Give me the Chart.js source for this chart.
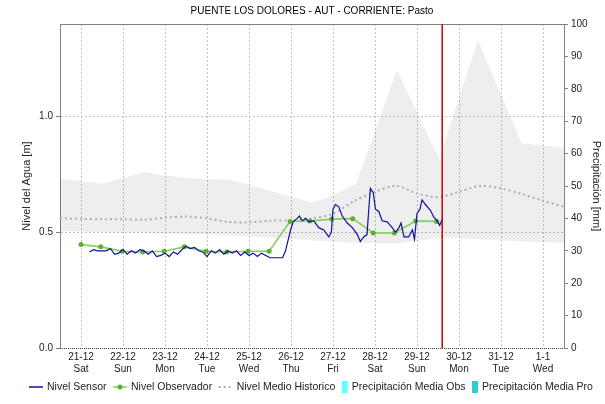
<!DOCTYPE html>
<html>
<head>
<meta charset="utf-8">
<title>Puente Los Dolores</title>
<script src="https://cdn.jsdelivr.net/npm/chart.js@4.4.1/dist/chart.umd.min.js"></script>
<style>
  html, body { margin: 0; padding: 0; background: #fff; }
  #wrap { width: 605px; height: 404px; }
</style>
</head>
<body>
<div id="wrap"><canvas id="levelChart" width="605" height="404"></canvas></div>
<script>
// x axis: days counted from 21-12 00:00
const dayTicks = [0, 1, 2, 3, 4, 5, 6, 7, 8, 9, 10, 11];
const dayLabels = ['21-12', '22-12', '23-12', '24-12', '25-12', '26-12', '27-12', '28-12', '29-12', '30-12', '31-12', '1-1'];
const weekDays = ['Sat', 'Sun', 'Mon', 'Tue', 'Wed', 'Thu', 'Fri', 'Sat', 'Sun', 'Mon', 'Tue', 'Wed'];
const levelTicks = [0, 0.5, 1.0];
const levelLabels = ['0.0', '0.5', '1.0'];
const precipTicks = [0, 10, 20, 30, 40, 50, 60, 70, 80, 90, 100];
const nowDay = 8.6;
const chartTitle = 'PUENTE LOS DOLORES - AUT - CORRIENTE: Pasto';

// Nivel Sensor [m]
const sensorDays = [
  0.2, 0.3, 0.4, 0.5, 0.6, 0.7, 0.8, 0.9, 1.0, 1.1, 1.2, 1.3, 1.4, 1.5, 1.6, 1.7,
  1.8, 1.9, 2.0, 2.1, 2.2, 2.3, 2.4, 2.5, 2.6, 2.7, 2.8, 2.9, 3.0, 3.1, 3.2, 3.3,
  3.4, 3.5, 3.6, 3.7, 3.8, 3.9, 4.0, 4.1, 4.2, 4.3, 4.4, 4.5, 4.6, 4.7, 4.8,
  4.87, 4.99, 5.05, 5.15, 5.2, 5.27, 5.35, 5.42, 5.54, 5.66, 5.78, 5.9, 5.96, 6.0,
  6.06, 6.14, 6.22, 6.34, 6.46, 6.58, 6.65, 6.73, 6.81, 6.85, 6.89, 6.96, 7.01,
  7.09, 7.17, 7.29, 7.41, 7.49, 7.57, 7.62, 7.69, 7.8, 7.89, 7.94, 8.0, 8.07,
  8.12, 8.2, 8.32, 8.4, 8.48, 8.54, 8.61
];
const sensorLevel = [
  0.415, 0.425, 0.42, 0.42, 0.42, 0.43, 0.405, 0.41, 0.425, 0.405, 0.42, 0.41, 0.425, 0.42, 0.405, 0.42,
  0.395, 0.40, 0.41, 0.395, 0.415, 0.405, 0.425, 0.44, 0.43, 0.435, 0.42, 0.415, 0.395, 0.42, 0.41, 0.425,
  0.405, 0.42, 0.41, 0.42, 0.40, 0.415, 0.40, 0.41, 0.395, 0.41, 0.40, 0.39, 0.39, 0.39, 0.39,
  0.42, 0.51, 0.545, 0.56, 0.57, 0.55, 0.56, 0.545, 0.55, 0.52, 0.51, 0.48, 0.50, 0.60,
  0.62, 0.61, 0.57, 0.54, 0.52, 0.49, 0.46, 0.48, 0.49, 0.595, 0.69, 0.67, 0.60,
  0.59, 0.55, 0.545, 0.52, 0.50, 0.52, 0.54, 0.48, 0.48, 0.51, 0.47, 0.58, 0.60,
  0.64, 0.62, 0.595, 0.565, 0.55, 0.53, 0.56
];

// Nivel Observador [m]
const observerDays = [0, 0.47, 0.98, 1.47, 1.98, 2.46, 2.98, 3.47, 3.98, 4.48, 4.98, 5.45, 5.97, 6.47, 6.96, 7.46, 7.97, 8.47];
const observerLevel = [0.447, 0.437, 0.418, 0.415, 0.418, 0.437, 0.418, 0.415, 0.418, 0.418, 0.547, 0.549, 0.557, 0.559, 0.497, 0.497, 0.549, 0.547];

// Nivel Medio Historico [m]
const histDays = [-0.5, 0, 0.5, 1, 1.5, 2, 2.5, 3, 3.5, 4, 4.5, 5, 5.5, 6, 6.5, 7, 7.5, 8, 8.5, 9, 9.5, 10, 10.5, 11, 11.5];
const histLevel = [0.56, 0.558, 0.556, 0.556, 0.554, 0.563, 0.568, 0.56, 0.545, 0.543, 0.55, 0.552, 0.56, 0.58, 0.635, 0.675, 0.70, 0.668, 0.652, 0.675, 0.70, 0.69, 0.665, 0.636, 0.61];

// historical range band [m]
const bandDays = [-0.5, 0, 0.5, 1, 1.5, 2, 2.5, 3, 3.5, 4, 4.5, 5, 5.5, 6, 6.55, 7.52, 8.55, 8.67, 9.45, 10.5, 11.5];
const bandHigh = [0.73, 0.72, 0.71, 0.735, 0.76, 0.745, 0.735, 0.73, 0.727, 0.705, 0.68, 0.655, 0.628, 0.66, 0.71, 1.20, 0.81, 0.897, 1.33, 0.884, 0.866];
const bandLow = [0.505, 0.503, 0.50, 0.50, 0.498, 0.495, 0.493, 0.49, 0.487, 0.483, 0.478, 0.472, 0.465, 0.46, 0.455, 0.452, 0.475, 0.478, 0.47, 0.46, 0.455];

// Precipitación [mm] (no values in this period)
const precipObs = [];
const precipPro = [];

const pairs = (xs, ys) => xs.map((x, i) => ({ x: x, y: ys[i] }));

const FONT = '"Liberation Sans", Arial, sans-serif';
Chart.defaults.font.family = FONT;
Chart.defaults.color = '#222';

const markerWidth = ds => (ds.marker === 'box' ? 6 : 14);

function drawMarker(ctx, ds, x, y) {
  ctx.save();
  if (ds.marker === 'box') {
    ctx.fillStyle = ds.backgroundColor;
    ctx.fillRect(x, y - 6, 6, 12);
  } else {
    ctx.strokeStyle = ds.borderColor;
    ctx.lineWidth = ds.marker === 'dots' ? 2 : 1.5;
    ctx.setLineDash(ds.marker === 'dots' ? [2, 3] : []);
    ctx.beginPath();
    ctx.moveTo(x, y);
    ctx.lineTo(x + 14, y);
    ctx.stroke();
    if (ds.marker === 'lineDot') {
      ctx.fillStyle = ds.pointBackgroundColor;
      ctx.beginPath();
      ctx.arc(x + 7, y, 2.5, 0, Math.PI * 2);
      ctx.fill();
    }
  }
  ctx.restore();
}

// title centred over the plot area
const plotTitle = {
  id: 'plotTitle',
  afterDraw(chart) {
    const { ctx, chartArea: a } = chart;
    ctx.save();
    ctx.font = '10px ' + FONT;
    ctx.fillStyle = '#000';
    ctx.textAlign = 'center';
    ctx.textBaseline = 'middle';
    ctx.fillText(chartTitle, (a.left + a.right) / 2, 11);
    ctx.restore();
  }
};

// legend row under the axis labels
const seriesLegend = {
  id: 'seriesLegend',
  afterDraw(chart) {
    const ctx = chart.ctx;
    const items = chart.data.datasets.filter(ds => ds.marker);
    ctx.save();
    ctx.font = '10.5px ' + FONT;
    ctx.textBaseline = 'middle';
    let x = 29;
    const y = 387;
    items.forEach(ds => {
      drawMarker(ctx, ds, x, y);
      const tx = x + markerWidth(ds) + 4;
      ctx.fillStyle = '#222';
      ctx.fillText(ds.label, tx, y);
      x = tx + ctx.measureText(ds.label).width + 6.5;
    });
    ctx.restore();
  }
};

// frame top/bottom and the red "now" line
const frameAndNow = {
  id: 'frameAndNow',
  afterDatasetsDraw(chart) {
    const { ctx, chartArea: a, scales } = chart;
    ctx.save();
    ctx.strokeStyle = '#808080';
    ctx.lineWidth = 1;
    ctx.beginPath();
    ctx.moveTo(a.left, a.top + 0.5);
    ctx.lineTo(a.right, a.top + 0.5);
    ctx.stroke();

    ctx.strokeStyle = '#555';
    ctx.setLineDash([1, 1]);
    ctx.beginPath();
    ctx.moveTo(a.left, a.bottom + 0.5);
    ctx.lineTo(a.right, a.bottom + 0.5);
    ctx.stroke();

    const nx = scales.x.getPixelForValue(nowDay);
    ctx.setLineDash([]);
    ctx.strokeStyle = '#cc0000';
    ctx.lineWidth = 1.5;
    ctx.beginPath();
    ctx.moveTo(nx, a.top);
    ctx.lineTo(nx, a.bottom);
    ctx.stroke();
    ctx.restore();
  }
};

new Chart(document.getElementById('levelChart'), {
  type: 'line',
  data: {
    datasets: [
      {
        label: 'Nivel Sensor',
        marker: 'line',
        data: pairs(sensorDays, sensorLevel),
        borderColor: '#10109c',
        borderWidth: 1.2,
        pointRadius: 0,
        tension: 0,
        yAxisID: 'y'
      },
      {
        label: 'Nivel Observador',
        marker: 'lineDot',
        data: pairs(observerDays, observerLevel),
        borderColor: '#88cc5c',
        borderWidth: 1.6,
        pointRadius: 2.5,
        pointBorderWidth: 0,
        pointBackgroundColor: '#5cb030',
        tension: 0,
        yAxisID: 'y'
      },
      {
        label: 'Nivel Medio Historico',
        marker: 'dots',
        data: pairs(histDays, histLevel),
        borderColor: '#adadad',
        borderWidth: 2,
        borderDash: [2, 3],
        pointRadius: 0,
        tension: 0.3,
        yAxisID: 'y'
      },
      {
        type: 'bar',
        label: 'Precipitación Media Obs',
        marker: 'box',
        data: precipObs,
        backgroundColor: '#66ffff',
        yAxisID: 'y2'
      },
      {
        type: 'bar',
        label: 'Precipitación Media Pro',
        marker: 'box',
        data: precipPro,
        backgroundColor: '#33cccc',
        yAxisID: 'y2'
      },
      {
        label: 'Rango Historico',
        data: pairs(bandDays, bandHigh),
        borderColor: 'rgba(0,0,0,0)',
        borderWidth: 0,
        backgroundColor: 'rgba(0,0,0,0.066)',
        fill: '+1',
        pointRadius: 0,
        tension: 0,
        yAxisID: 'y'
      },
      {
        label: 'Rango Historico min',
        data: pairs(bandDays, bandLow),
        borderColor: 'rgba(0,0,0,0)',
        borderWidth: 0,
        fill: false,
        pointRadius: 0,
        tension: 0,
        yAxisID: 'y'
      }
    ]
  },
  options: {
    responsive: false,
    animation: false,
    events: [],
    layout: { padding: { top: 24, left: 0, right: 0, bottom: 0 } },
    plugins: {
      legend: { display: false },
      tooltip: { enabled: false },
      title: { display: false }
    },
    scales: {
      x: {
        type: 'linear',
        min: -0.5,
        max: 11.5,
        offset: false,
        afterBuildTicks: s => { s.ticks = dayTicks.map(v => ({ value: v })); },
        afterFit: s => { s.height = 56; },
        ticks: {
          callback: (v, i) => [dayLabels[i], weekDays[i]],
          font: { size: 10, lineHeight: 1.2 },
          color: '#222',
          padding: 3,
          maxRotation: 0,
          autoSkip: false
        },
        grid: { offset: false, color: '#c4c4c4', drawTicks: false },
        border: { display: false, dash: [2, 2] }
      },
      y: {
        type: 'linear',
        position: 'left',
        min: 0,
        max: 1.4,
        afterBuildTicks: s => { s.ticks = levelTicks.map(v => ({ value: v })); },
        afterFit: s => { s.width = 60; },
        ticks: {
          callback: (v, i) => levelLabels[i],
          font: { size: 10 },
          color: '#222',
          padding: 3
        },
        grid: { color: '#c4c4c4', tickLength: 4, tickColor: '#808080' },
        border: { display: true, color: '#808080', dash: [2, 2] },
        title: {
          display: true,
          text: 'Nivel del Agua [m]',
          color: '#222',
          font: { size: 11 },
          padding: { top: 20, bottom: 0 }
        }
      },
      y2: {
        type: 'linear',
        position: 'right',
        min: 0,
        max: 100,
        afterBuildTicks: s => { s.ticks = precipTicks.map(v => ({ value: v })); },
        afterFit: s => { s.width = 41; },
        ticks: { font: { size: 10 }, color: '#222', padding: 3 },
        grid: { drawOnChartArea: false, tickLength: 4, tickColor: '#808080' },
        border: { display: true, color: '#808080' },
        title: {
          display: true,
          text: 'Precipitación [mm]',
          color: '#222',
          font: { size: 11 },
          padding: { top: 2, bottom: 0 }
        }
      }
    }
  },
  plugins: [frameAndNow, plotTitle, seriesLegend]
});
</script>
</body>
</html>
